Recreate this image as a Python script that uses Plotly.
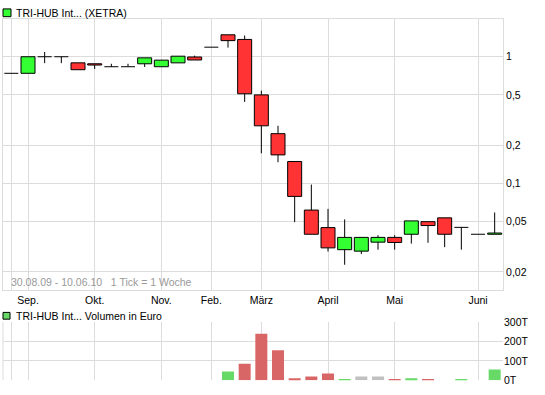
import plotly.graph_objects as go

# ---- data (weekly candles) ----
opens  = [0.74, 0.74, 1.0, 1.0, 0.895, 0.88, 0.834, 0.834, 0.88, 0.834,
          0.895, 0.995, 1.19, 1.49, 1.37, 0.50, 0.247, 0.149, 0.0616, 0.0448,
          0.030, 0.0292, 0.0344, 0.0375, 0.0397, 0.0499, 0.0535, 0.045, 0.0397, 0.0397]
highs  = [0.74, 1.0, 1.09, 1.0, 0.895, 0.88, 0.88, 0.88, 0.98, 0.94,
          1.01, 1.02, 1.19, 1.49, 1.47, 0.54, 0.285, 0.149, 0.098, 0.063,
          0.052, 0.0375, 0.039, 0.039, 0.0506, 0.0499, 0.0535, 0.045, 0.0397, 0.059]
lows   = [0.74, 0.74, 0.89, 0.89, 0.79, 0.80, 0.834, 0.834, 0.83, 0.834,
          0.895, 0.943, 1.19, 1.18, 0.44, 0.173, 0.147, 0.0495, 0.0397, 0.029,
          0.0228, 0.0277, 0.030, 0.030, 0.0335, 0.034, 0.0314, 0.030, 0.0397, 0.0397]
closes = [0.74, 1.0, 1.0, 1.0, 0.79, 0.86, 0.834, 0.834, 0.98, 0.94,
          1.01, 0.943, 1.19, 1.34, 0.51, 0.285, 0.168, 0.079, 0.0397, 0.031,
          0.0375, 0.0375, 0.0375, 0.0342, 0.0506, 0.0465, 0.0397, 0.045, 0.0397, 0.0406]
volumes = [0, 0, 0, 0, 0, 0, 0, 0, 0, 0,
           0, 0, 0, 45000, 85000, 240000, 155000, 10000, 20000, 35000,
           5000, 20000, 20000, 5000, 10000, 5000, 0, 5000, 0, 55000]

month_idx = [0, 1, 5, 9, 12, 15, 19, 23, 28]
month_lbl = ["", "Sep.", "Okt.", "Nov.", "Feb.", "März", "April", "Mai", "Juni"]
price_ticks = [0.02, 0.05, 0.1, 0.2, 0.5, 1]
price_lbl = ["0,02", "0,05", "0,1", "0,2", "0,5", "1"]
vol_ticks = [0, 100000, 200000, 300000]
vol_lbl = ["0T", "100T", "200T", "300T"]

title_main = "TRI-HUB Int... (XETRA)"
title_vol = "TRI-HUB Int... Volumen in Euro"
caption = "30.08.09 - 10.06.10   1 Tick = 1 Woche"

# ---- styles ----
UP = "#33ff33"
DOWN = "#ff3333"
V_UP = "#66d966"
V_DOWN = "#d96666"
V_FLAT = "#c0c0c0"
GRID = "#dcdcdc"
FONT = "Liberation Sans, Arial, sans-serif"
FS = 10.5
BODY_W = 0.84
HALF = BODY_W / 2

n = len(opens)
xs = list(range(n))

# bodies
bx, bbase, bh, bcol = [], [], [], []
for i in xs:
    o, c = opens[i], closes[i]
    if o != c:
        bx.append(i)
        bbase.append(min(o, c))
        bh.append(abs(c - o))
        bcol.append(UP if c > o else DOWN)

# wicks (upper and lower separately, so they never cross the body)
wx, wy = [], []
for i in xs:
    top = max(opens[i], closes[i])
    bot = min(opens[i], closes[i])
    if highs[i] > top:
        wx += [i, i, None]
        wy += [highs[i], top, None]
    if lows[i] < bot:
        wx += [i, i, None]
        wy += [bot, lows[i], None]

# doji lines
dx, dy = [], []
for i in xs:
    if opens[i] == closes[i]:
        dx += [i - HALF, i + HALF, None]
        dy += [opens[i], opens[i], None]

# volume colours: compared with previous close
vcol = []
for i in xs:
    prev = closes[i - 1] if i > 0 else closes[i]
    if closes[i] > prev:
        vcol.append(V_UP)
    elif closes[i] < prev:
        vcol.append(V_DOWN)
    else:
        vcol.append(V_FLAT)

fig = go.Figure()
fig.add_trace(go.Scatter(x=wx, y=wy, mode="lines", line=dict(color="black", width=1),
                         xaxis="x", yaxis="y", hoverinfo="skip", showlegend=False))
fig.add_trace(go.Scatter(x=dx, y=dy, mode="lines", line=dict(color="black", width=1),
                         xaxis="x", yaxis="y", hoverinfo="skip", showlegend=False))
fig.add_trace(go.Bar(x=bx, y=bh, base=bbase, width=BODY_W,
                     marker=dict(color=bcol, line=dict(color="black", width=1)),
                     xaxis="x", yaxis="y", hoverinfo="skip", showlegend=False))
fig.add_trace(go.Bar(x=xs, y=volumes, width=0.72,
                     marker=dict(color=vcol, line=dict(width=0)),
                     xaxis="x2", yaxis="y2", hoverinfo="skip", showlegend=False))

W, H = 545, 395
xdom = [3 / W, 503 / W]
fig.update_layout(
    width=W, height=H,
    margin=dict(l=0, r=0, t=0, b=0),
    paper_bgcolor="white", plot_bgcolor="white",
    barmode="overlay",
    font=dict(family=FONT, size=FS, color="black"),
    xaxis=dict(domain=xdom, range=[-0.5, n - 0.5], tickmode="array",
               tickvals=month_idx, ticktext=month_lbl, showgrid=True,
               gridcolor=GRID, gridwidth=1, zeroline=False, showline=True,
               mirror=True, linecolor=GRID, linewidth=1, ticks="",
               anchor="y", fixedrange=True),
    yaxis=dict(domain=[102 / H, 382 / H], type="log",
               range=[-1.842, 0.30103], side="right", tickmode="array",
               tickvals=price_ticks, ticktext=price_lbl, showgrid=True,
               gridcolor=GRID, gridwidth=1, zeroline=False, showline=True,
               mirror=True, linecolor=GRID, linewidth=1, ticks="",
               anchor="x", fixedrange=True),
    xaxis2=dict(domain=xdom, range=[-0.5, n - 0.5], tickmode="array",
                tickvals=month_idx, showticklabels=False, showgrid=True,
                gridcolor=GRID, gridwidth=1, zeroline=False, showline=False,
                ticks="", anchor="y2", fixedrange=True),
    yaxis2=dict(domain=[9 / H, 69 / H], range=[0, 300000], side="right",
                tickmode="array", tickvals=vol_ticks, ticktext=vol_lbl,
                showgrid=True, gridcolor=GRID, gridwidth=1, zeroline=False,
                showline=False, ticks="", anchor="x2", fixedrange=True),
    showlegend=False,
)

# legend squares
fig.add_shape(type="rect", xref="paper", yref="paper",
              x0=3 / W, x1=11 / W, y0=(H - 11) / H, y1=(H - 3) / H,
              fillcolor=UP, line=dict(color="black", width=1))
fig.add_shape(type="rect", xref="paper", yref="paper",
              x0=3 / W, x1=10 / W, y0=(H - 323) / H, y1=(H - 316) / H,
              fillcolor=V_UP, line=dict(color="black", width=1))
# left border of volume panel
fig.add_shape(type="line", xref="x2 domain", yref="y2 domain",
              x0=0, x1=0, y0=0, y1=1, line=dict(color=GRID, width=1))

fig.add_annotation(text=title_main, xref="paper", yref="paper",
                   x=14 / W, y=(H - 7) / H, xanchor="left", yanchor="middle",
                   showarrow=False, font=dict(size=FS, color="black"))
fig.add_annotation(text=title_vol, xref="paper", yref="paper",
                   x=14 / W, y=(H - 319.5) / H, xanchor="left", yanchor="middle",
                   showarrow=False, font=dict(size=FS, color="black"))
fig.add_annotation(text=caption, xref="paper", yref="paper",
                   x=9 / W, y=(H - 285) / H, xanchor="left", yanchor="middle",
                   showarrow=False, font=dict(size=FS, color="#999999"))

fig.write_html("out.html", config={"displayModeBar": False},
               post_script="document.body.style.margin='0';document.body.style.overflow='hidden';")
